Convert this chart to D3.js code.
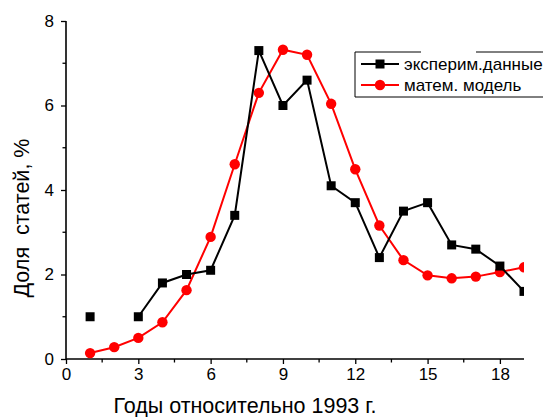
<!DOCTYPE html>
<html><head><meta charset="utf-8">
<script src="https://cdn.jsdelivr.net/npm/d3@7"></script>
<style>body{margin:0;background:#fff;}svg{display:block;font-family:"Liberation Sans",Arial,sans-serif;}</style>
</head><body>
<svg id="c" width="543" height="417"></svg>
<script>
const years = [1,2,3,4,5,6,7,8,9,10,11,12,13,14,15,16,17,18,19];
const experim = [1.0,null,1.0,1.8,2.0,2.1,3.4,7.3,6.0,6.6,4.1,3.7,2.4,3.5,3.7,2.7,2.6,2.2,1.6];
const model = [0.14,0.28,0.50,0.87,1.63,2.89,4.61,6.30,7.32,7.20,6.04,4.49,3.16,2.34,1.98,1.91,1.95,2.06,2.17];
const xTicks = [0,3,6,9,12,15,18];
const yTicks = [0,2,4,6,8];
const legendLabels = ["эксперим.данные","матем. модель"];
const xTitle = "Годы относительно 1993 г.";
const yTitle = "Доля  статей, %";

const svg = d3.select("#c");
const x = d3.scaleLinear().domain([0,19]).range([66,524]);
const y = d3.scaleLinear().domain([0,8]).range([359,21]);

svg.append("defs").append("clipPath").attr("id","clip")
  .append("rect").attr("x",66).attr("y",0).attr("width",524-66).attr("height",360);

// axes
const xAxis = d3.axisBottom(x).tickValues(xTicks).tickSize(5).tickPadding(4);
const gx = svg.append("g").attr("transform",`translate(0,${y(0)})`).call(xAxis);
const yAxis = d3.axisLeft(y).tickValues(yTicks).tickSize(5).tickPadding(7);
const gy = svg.append("g").attr("transform",`translate(${x(0)},0)`).call(yAxis);
[gx,gy].forEach(g=>{
  g.select(".domain").attr("stroke","#000").attr("stroke-width",1.6);
  g.selectAll(".tick line").attr("stroke","#000").attr("stroke-width",1.3);
  g.selectAll(".tick text").attr("font-size",17).attr("fill","#000").attr("font-family","Liberation Sans, Arial, sans-serif");
});
gx.select(".domain").attr("d",`M${x(0)},0H${x(19)}`);
gy.select(".domain").attr("d",`M0,${y(0)}V${y(8)}`);
// minor ticks
const xMinor = d3.range(1.5,19,3);
svg.append("g").selectAll("line").data(xMinor).join("line")
  .attr("x1",d=>x(d)).attr("x2",d=>x(d)).attr("y1",y(0)).attr("y2",y(0)+3.5)
  .attr("stroke","#000").attr("stroke-width",1.3);
const yMinor = [1,3,5,7];
svg.append("g").selectAll("line").data(yMinor).join("line")
  .attr("y1",d=>y(d)).attr("y2",d=>y(d)).attr("x1",x(0)).attr("x2",x(0)-3.5)
  .attr("stroke","#000").attr("stroke-width",1.3);

// titles
svg.append("text").attr("x",245).attr("y",413).attr("text-anchor","middle")
  .attr("font-size",21.5).text(xTitle);
svg.append("text").attr("transform","translate(29,218) rotate(-90)").attr("text-anchor","middle")
  .attr("font-size",21.5).style("white-space","pre").attr("xml:space","preserve").text(yTitle);

const plot = svg.append("g").attr("clip-path","url(#clip)");
const line = d3.line().defined(d=>d[1]!=null).x(d=>x(d[0])).y(d=>y(d[1]));
const mData = years.map((yr,i)=>[yr,model[i]]);
const eData = years.map((yr,i)=>[yr,experim[i]]);

plot.append("path").datum(mData).attr("d",line).attr("fill","none").attr("stroke","#ff0000").attr("stroke-width",2);
plot.selectAll("circle.m").data(mData).join("circle").attr("class","m")
  .attr("cx",d=>x(d[0])).attr("cy",d=>y(d[1])).attr("r",5.2).attr("fill","#ff0000");

plot.append("path").datum(eData).attr("d",line).attr("fill","none").attr("stroke","#000").attr("stroke-width",2);
plot.selectAll("rect.e").data(eData.filter(d=>d[1]!=null)).join("rect").attr("class","e")
  .attr("x",d=>x(d[0])-4.5).attr("y",d=>y(d[1])-4.5).attr("width",9).attr("height",9).attr("fill","#000");

// legend
const lg = svg.append("g");
const lx0=355, ly0=52, ly1=97;
lg.append("path").attr("d",`M421,${ly0}H${lx0}V${ly1}H545`).attr("fill","none").attr("stroke","#000").attr("stroke-width",1);
lg.append("path").attr("d",`M476,${ly0}H545`).attr("fill","none").attr("stroke","#000").attr("stroke-width",1);
const rowsY=[64,85];
const colors=["#000","#ff0000"];
legendLabels.forEach((lab,i)=>{
  const yy=rowsY[i];
  lg.append("line").attr("x1",361).attr("x2",399).attr("y1",yy).attr("y2",yy).attr("stroke",colors[i]).attr("stroke-width",2);
  if(i===0) lg.append("rect").attr("x",380-4.5).attr("y",yy-4.5).attr("width",9).attr("height",9).attr("fill","#000");
  else lg.append("circle").attr("cx",380).attr("cy",yy).attr("r",5.2).attr("fill","#ff0000");
  lg.append("text").attr("x",404).attr("y",yy+6).attr("font-size",17).text(lab);
});
</script>
</body></html>
